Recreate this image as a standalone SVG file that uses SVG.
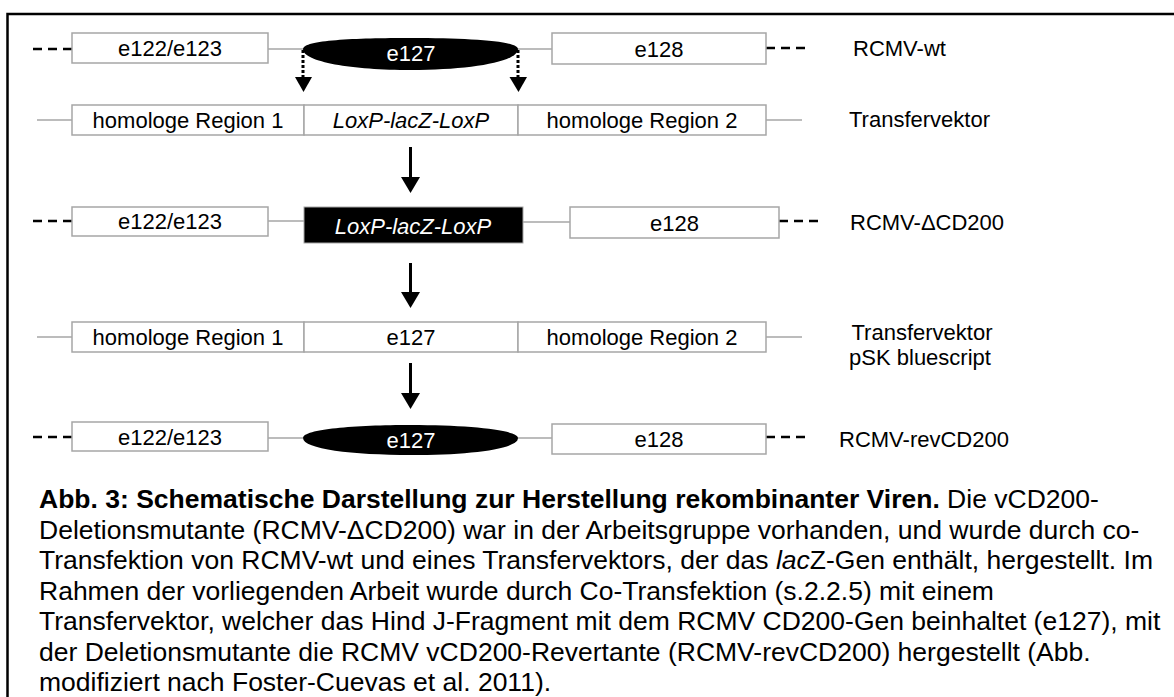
<svg xmlns="http://www.w3.org/2000/svg" width="1174" height="697" viewBox="0 0 1174 697">
<defs>
<style>
.bx{fill:#fff;stroke:#a6a6a6;stroke-width:1.5}
.ln{stroke:#a6a6a6;stroke-width:1.5;fill:none}
.ds{stroke:#000;stroke-width:2.5;stroke-dasharray:9 6;fill:none}
.t{font-family:"Liberation Sans",Arial,sans-serif;font-size:22px;fill:#000}
.c{text-anchor:middle}
.w{fill:#fff}
.i{font-style:italic}
.cap{font-family:"Liberation Sans",Arial,sans-serif;font-size:26.5px;fill:#000}
.sh{stroke:#000;stroke-width:3;fill:none}
.dot{stroke:#000;stroke-width:3;stroke-dasharray:3 2;fill:none}
</style>
</defs>
<rect x="7.5" y="14" width="1180" height="700" fill="none" stroke="#000" stroke-width="2.5"/>

<g id="connectors">
<path class="ds" d="M33,49 H72"/>
<path class="ln" d="M268,49 H303 M518,49 H552"/>
<path class="ds" d="M766,48 H805"/>
<path class="dot" d="M303,50 V78"/>
<path d="M295,77 L312,77 L303.5,92 Z" fill="#000"/>
<path class="dot" d="M518,50 V78"/>
<path d="M509.5,77 L527,77 L518.5,92 Z" fill="#000"/>
<path class="ln" d="M37,120 H72 M766,120 H802"/>
<path class="sh" d="M410.5,147 V179"/>
<path d="M401,177 L420,177 L410.5,193 Z" fill="#000"/>
<path class="ds" d="M33,221 H72"/>
<path class="ln" d="M268,221 H304 M523,222 H570"/>
<path class="ds" d="M779,221 H818"/>
<path class="sh" d="M410.5,263 V294"/>
<path d="M401,292 L420,292 L410.5,308 Z" fill="#000"/>
<path class="ln" d="M37,337 H72 M766,337 H802"/>
<path class="sh" d="M410.5,363 V395"/>
<path d="M401,393 L420,393 L410.5,409 Z" fill="#000"/>
<path class="ds" d="M33,437 H72"/>
<path class="ln" d="M268,438 H303 M518,438 H552"/>
<path class="ds" d="M766,437 H805"/>
</g>

<g id="row1-e122">
<rect class="bx" x="72" y="33" width="196" height="30"/>
<text class="t c" x="170" y="56">e122/e123</text>
</g>
<g id="row1-e127">
<path d="M303,49 C303,40 355,38 411,38 C470,38 518,41 518,49 C518,62 470,70 411,70 C352,70 303,62 303,49 Z" fill="#000"/>
<text class="t c w" x="411" y="61">e127</text>
</g>
<g id="row1-e128">
<rect class="bx" x="552" y="33" width="214" height="31"/>
<text class="t c" x="659" y="57">e128</text>
</g>
<text id="lbl-wt" class="t" x="853" y="56">RCMV-wt</text>

<g id="row2-hr1">
<rect class="bx" x="72" y="105" width="232" height="30"/>
<text class="t c" x="188" y="128">homologe Region 1</text>
</g>
<g id="row2-lox">
<rect class="bx" x="304" y="105" width="214" height="30"/>
<text class="t c i" x="411" y="128">LoxP-lacZ-LoxP</text>
</g>
<g id="row2-hr2">
<rect class="bx" x="518" y="105" width="248" height="30"/>
<text class="t c" x="642" y="128">homologe Region 2</text>
</g>
<text id="lbl-tv1" class="t" x="849" y="127">Transfervektor</text>

<g id="row3-e122">
<rect class="bx" x="72" y="207" width="196" height="29"/>
<text class="t c" x="170" y="229">e122/e123</text>
</g>
<g id="row3-lox">
<rect x="304" y="207" width="219" height="36" fill="#000" stroke="#a6a6a6" stroke-width="1"/>
<text class="t c i w" x="413" y="234">LoxP-lacZ-LoxP</text>
</g>
<g id="row3-e128">
<rect class="bx" x="570" y="207" width="209" height="31"/>
<text class="t c" x="674.5" y="231">e128</text>
</g>
<text id="lbl-dcd" class="t" x="850" y="230">RCMV-ΔCD200</text>

<g id="row4-hr1">
<rect class="bx" x="72" y="322" width="232" height="30"/>
<text class="t c" x="188" y="345">homologe Region 1</text>
</g>
<g id="row4-e127">
<rect class="bx" x="304" y="322" width="214" height="30"/>
<text class="t c" x="411" y="345">e127</text>
</g>
<g id="row4-hr2">
<rect class="bx" x="518" y="322" width="248" height="30"/>
<text class="t c" x="642" y="345">homologe Region 2</text>
</g>
<text id="lbl-tv2" class="t c" x="922" y="340">Transfervektor<tspan x="920" y="365">pSK bluescript</tspan></text>

<g id="row5-e122">
<rect class="bx" x="72" y="422" width="196" height="29"/>
<text class="t c" x="170" y="445">e122/e123</text>
</g>
<g id="row5-e127">
<path d="M303,438 C303,429 355,425 411,425 C470,425 518,430 518,438 C518,449 470,455 411,455 C352,455 303,449 303,438 Z" fill="#000"/>
<text class="t c w" x="411" y="448">e127</text>
</g>
<g id="row5-e128">
<rect class="bx" x="552" y="424" width="214" height="30"/>
<text class="t c" x="659" y="447">e128</text>
</g>
<text id="lbl-rev" class="t" x="839" y="447">RCMV-revCD200</text>

<g id="caption" class="cap">
<text x="39" y="508"><tspan font-weight="bold">Abb. 3: Schematische Darstellung zur Herstellung rekombinanter Viren.</tspan> Die vCD200-</text>
<text x="39" y="538.5">Deletionsmutante (RCMV-ΔCD200) war in der Arbeitsgruppe vorhanden, und wurde durch co-</text>
<text x="39" y="569">Transfektion von RCMV-wt und eines Transfervektors, der das <tspan font-style="italic">lac</tspan>Z-Gen enthält, hergestellt. Im</text>
<text x="39" y="599.5">Rahmen der vorliegenden Arbeit wurde durch Co-Transfektion (s.2.2.5) mit einem</text>
<text x="39" y="630">Transfervektor, welcher das Hind J-Fragment mit dem RCMV CD200-Gen beinhaltet (e127), mit</text>
<text x="39" y="660.5">der Deletionsmutante die RCMV vCD200-Revertante (RCMV-revCD200) hergestellt (Abb.</text>
<text x="39" y="691">modifiziert nach Foster-Cuevas et al. 2011).</text>
</g>
</svg>
